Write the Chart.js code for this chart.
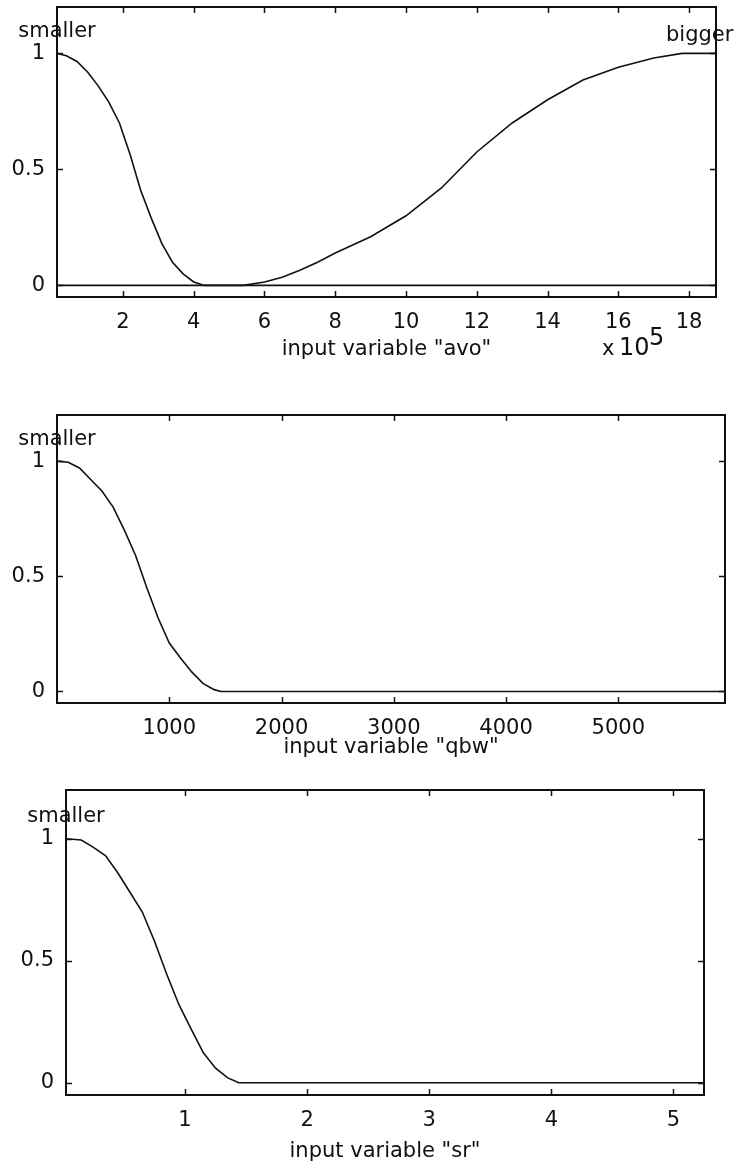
<!DOCTYPE html>
<html>
<head>
<meta charset="utf-8">
<script src="https://cdn.jsdelivr.net/npm/chart.js@4.4.1/dist/chart.umd.min.js"></script>
<style>
  html, body { margin: 0; padding: 0; background: #fff; }
  body { width: 737px; height: 1162px; position: relative; overflow: hidden; }
  .panel { position: absolute; left: 0; width: 737px; }
</style>
</head>
<body>
<div class="panel" style="top:0;height:370px"><canvas id="mf-avo"></canvas></div>
<div class="panel" style="top:380px;height:390px"><canvas id="mf-qbw"></canvas></div>
<div class="panel" style="top:770px;height:392px"><canvas id="mf-sr"></canvas></div>
<script>
  const FONT = "'DejaVu Sans', sans-serif";
  const INK = "#111";

  const Y_TICKS = [0, 0.5, 1];

  // "avo" — x in units of 1e5
  const AVO_TICKS = [2, 4, 6, 8, 10, 12, 14, 16, 18];
  const AVO_SMALLER_X = [0.136, 0.4, 0.7, 1.0, 1.3, 1.6, 1.9, 2.2, 2.5, 2.8, 3.1, 3.4, 3.7, 4.0, 4.3, 18.76];
  const AVO_SMALLER_Y = [1, 0.99, 0.965, 0.92, 0.86, 0.79, 0.70, 0.565, 0.41, 0.29, 0.18, 0.10, 0.05, 0.015, 0, 0];
  const AVO_BIGGER_X = [0.136, 5.4, 6.0, 6.5, 7.0, 7.5, 8.0, 9.0, 10.0, 11.0, 12.0, 13.0, 14.0, 15.0, 16.0, 17.0, 17.8, 18.76];
  const AVO_BIGGER_Y = [0, 0, 0.015, 0.035, 0.065, 0.10, 0.14, 0.21, 0.30, 0.42, 0.575, 0.70, 0.80, 0.885, 0.94, 0.98, 1, 1];

  // "qbw"
  const QBW_TICKS = [1000, 2000, 3000, 4000, 5000];
  const QBW_SMALLER_X = [0, 100, 200, 300, 400, 500, 600, 700, 800, 900, 1000, 1100, 1200, 1300, 1400, 1460, 5950];
  const QBW_SMALLER_Y = [1, 0.995, 0.97, 0.92, 0.87, 0.80, 0.70, 0.59, 0.45, 0.32, 0.21, 0.145, 0.085, 0.035, 0.008, 0, 0];

  // "sr"
  const SR_TICKS = [1, 2, 3, 4, 5];
  const SR_SMALLER_X = [0.025, 0.15, 0.25, 0.35, 0.45, 0.55, 0.65, 0.75, 0.85, 0.95, 1.05, 1.15, 1.25, 1.35, 1.44, 5.25];
  const SR_SMALLER_Y = [1, 0.995, 0.965, 0.93, 0.86, 0.78, 0.70, 0.58, 0.445, 0.32, 0.22, 0.123, 0.06, 0.02, 0, 0];

  // MATLAB-style frame: full box, inward ticks on all four sides, mf names.
  const boxPlugin = {
    id: "mfBox",
    afterDraw(chart, args, opts) {
      const ctx = chart.ctx;
      const a = chart.chartArea;
      const xs = chart.scales.x;
      const ys = chart.scales.y;
      ctx.save();
      ctx.strokeStyle = INK;
      ctx.lineWidth = 2;
      ctx.strokeRect(a.left, a.top, a.right - a.left, a.bottom - a.top);
      ctx.lineWidth = 1.5;
      ctx.beginPath();
      xs.ticks.forEach(function (t) {
        const px = Math.round(xs.getPixelForValue(t.value)) + 0.5;
        ctx.moveTo(px, a.bottom); ctx.lineTo(px, a.bottom - 6);
        ctx.moveTo(px, a.top); ctx.lineTo(px, a.top + 6);
      });
      ys.ticks.forEach(function (t) {
        const py = Math.round(ys.getPixelForValue(t.value)) + 0.5;
        ctx.moveTo(a.left, py); ctx.lineTo(a.left + 6, py);
        ctx.moveTo(a.right, py); ctx.lineTo(a.right - 6, py);
      });
      ctx.stroke();

      ctx.fillStyle = INK;
      ctx.font = "21px " + FONT;
      ctx.textAlign = "center";
      ctx.textBaseline = "alphabetic";
      (opts.labels || []).forEach(function (l) {
        ctx.fillText(l.text, xs.getPixelForValue(l.x), ys.getPixelForValue(l.y));
      });

      if (opts.exponent) {
        ctx.textAlign = "left";
        ctx.fillText("x", a.right - 114, a.bottom + 58);
        ctx.font = "24px " + FONT;
        ctx.fillText("10", a.right - 97, a.bottom + 58);
        ctx.fillText(opts.exponent, a.right - 67, a.bottom + 48);
      }
      ctx.restore();
    },
  };

  function toPoints(xs, ys) {
    return xs.map(function (x, i) { return { x: x, y: ys[i] }; });
  }

  function makePanel(id, cfg) {
    return new Chart(document.getElementById(id), {
      type: "line",
      data: {
        datasets: cfg.series.map(function (s) {
          return {
            data: toPoints(s.x, s.y),
            borderColor: INK,
            borderWidth: 1.6,
            pointRadius: 0,
            tension: 0,
            fill: false,
          };
        }),
      },
      options: {
        responsive: true,
        maintainAspectRatio: false,
        animation: false,
        layout: { padding: cfg.padding },
        plugins: {
          legend: { display: false },
          tooltip: { enabled: false },
          mfBox: { labels: cfg.labels, exponent: cfg.exponent },
        },
        scales: {
          x: {
            type: "linear",
            min: cfg.xMin,
            max: cfg.xMax,
            afterBuildTicks: function (s) { s.ticks = cfg.xTicks.map(function (v) { return { value: v }; }); },
            // fixed axis size, and no extra label overhang padding
            afterFit: function (s) {
              s.height = cfg.xAxisHeight;
              s.paddingLeft = 0; s.paddingRight = 0;
            },
            grid: { display: false, drawTicks: false },
            border: { display: false },
            ticks: {
              color: INK,
              font: { family: FONT, size: 21 },
              padding: 13,
              maxRotation: 0,
              autoSkip: false,
              callback: function (v) { return String(v); },
            },
            title: {
              display: true,
              text: cfg.title,
              color: INK,
              font: { family: FONT, size: 21, lineHeight: 1 },
              padding: { top: 0, bottom: cfg.titlePad },
            },
          },
          y: {
            min: -0.05,
            max: 1.2,
            afterBuildTicks: function (s) { s.ticks = Y_TICKS.map(function (v) { return { value: v }; }); },
            afterFit: function (s) {
              s.width = cfg.yAxisWidth;
              s.paddingTop = 0; s.paddingBottom = 0;
            },
            grid: { display: false, drawTicks: false },
            border: { display: false },
            ticks: {
              color: INK,
              font: { family: FONT, size: 21 },
              padding: 12,
              callback: function (v) { return String(v); },
            },
          },
        },
      },
      plugins: [boxPlugin],
    });
  }

  makePanel("mf-avo", {
    series: [
      { x: AVO_SMALLER_X, y: AVO_SMALLER_Y },
      { x: AVO_BIGGER_X, y: AVO_BIGGER_Y },
    ],
    xMin: 0.136, xMax: 18.76, xTicks: AVO_TICKS,
    title: 'input variable "avo"',
    labels: [
      { text: "smaller", x: 0.136, y: 1.07 },
      { text: "bigger", x: 18.3, y: 1.055 },
    ],
    exponent: "5",
    padding: { top: 7, left: 0, right: 21, bottom: 0 },
    yAxisWidth: 57, xAxisHeight: 73, titlePad: 10,
  });

  makePanel("mf-qbw", {
    series: [{ x: QBW_SMALLER_X, y: QBW_SMALLER_Y }],
    xMin: 0, xMax: 5950, xTicks: QBW_TICKS,
    title: 'input variable "qbw"',
    labels: [{ text: "smaller", x: 0, y: 1.07 }],
    padding: { top: 35, left: 0, right: 12, bottom: 0 },
    yAxisWidth: 57, xAxisHeight: 67, titlePad: 12,
  });

  makePanel("mf-sr", {
    series: [{ x: SR_SMALLER_X, y: SR_SMALLER_Y }],
    xMin: 0.025, xMax: 5.25, xTicks: SR_TICKS,
    title: 'input variable "sr"',
    labels: [{ text: "smaller", x: 0.025, y: 1.07 }],
    padding: { top: 20, left: 0, right: 33, bottom: 0 },
    yAxisWidth: 66, xAxisHeight: 67, titlePad: 0,
  });
</script>
</body>
</html>
